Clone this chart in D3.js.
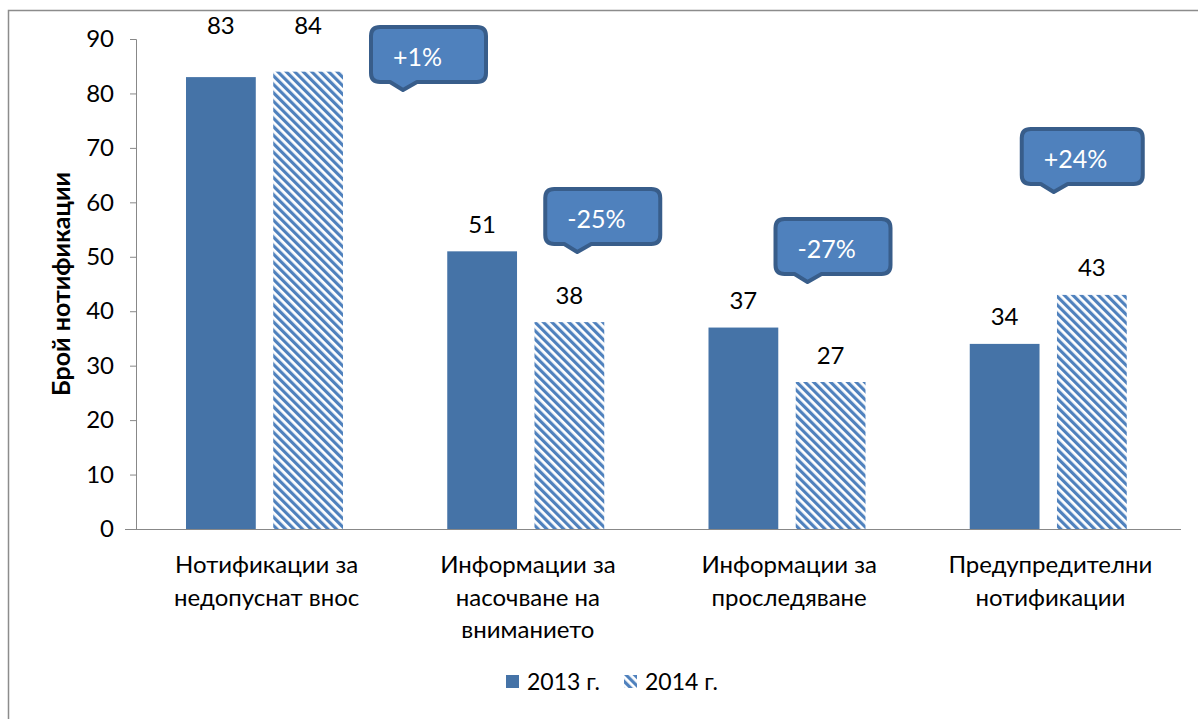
<!DOCTYPE html>
<html>
<head>
<meta charset="utf-8">
<script src="https://cdn.jsdelivr.net/npm/d3@7"></script>
<style>
  body { margin: 0; background: #fff; }
  svg { font-family: Lato, "Noto Sans", sans-serif; }
</style>
</head>
<body>
<div id="chart"></div>
<script>
// data
var categories = [
  ["Нотификации за", "недопуснат внос"],
  ["Информации за", "насочване на", "вниманието"],
  ["Информации за", "проследяване"],
  ["Предупредителни", "нотификации"]
];
var series = ["2013 г.", "2014 г."];
var values2013 = [83, 51, 37, 34];
var values2014 = [84, 38, 27, 43];
var changes = ["+1%", "-25%", "-27%", "+24%"];
var yTicks = [0, 10, 20, 30, 40, 50, 60, 70, 80, 90];

// layout for the callout boxes (offset from category band start, top y)
var calloutPos = [
  { dx: 233, top: 25, w: 119 },
  { dx: 146, top: 187, w: 119 },
  { dx: 115, top: 217, w: 119 },
  { dx: 100, top: 127, w: 125 }
];

var W = 1198, H = 719;
var svg = d3.select("#chart").append("svg").attr("width", W).attr("height", H);

// outer frame
svg.append("rect")
  .attr("x", 8.5).attr("y", 10.5)
  .attr("width", W + 10).attr("height", H + 10)
  .attr("fill", "none").attr("stroke", "#8c8c8c").attr("stroke-width", 1.5);

// hatch pattern
var defs = svg.append("defs");
var pat = defs.append("pattern")
  .attr("id", "hatch")
  .attr("patternUnits", "userSpaceOnUse")
  .attr("width", 6).attr("height", 6)
  .attr("patternTransform", "rotate(-45)");
pat.append("rect").attr("width", 6).attr("height", 6).attr("fill", "#fff");
pat.append("rect").attr("width", 3.2).attr("height", 6).attr("fill", "#4f81bd");

var x0 = d3.scaleBand().domain(d3.range(categories.length)).range([136, 1181]);
var x1 = d3.scaleBand().domain(series).range([50, 207]).paddingInner(0.2);
var y = d3.scaleLinear().domain([0, 90]).range([529, 39]);

var fills = ["#4573a7", "url(#hatch)"];

// y axis
var yAxis = svg.append("g")
  .attr("transform", "translate(136,0)")
  .call(d3.axisLeft(y).tickValues(yTicks).tickSize(6).tickPadding(16));
yAxis.select(".domain").attr("stroke", "#888").attr("d", "M-6,39.5H0.5V529.5");
yAxis.selectAll(".tick line").attr("stroke", "#888");
yAxis.selectAll("text").attr("font-size", 24).attr("fill", "#000")
  .attr("font-family", "Lato, 'Noto Sans', sans-serif");

// x axis line
svg.append("line")
  .attr("x1", 125).attr("x2", 1181)
  .attr("y1", y(0) + 0.5).attr("y2", y(0) + 0.5)
  .attr("stroke", "#888");

// y title
svg.append("text")
  .attr("transform", "translate(70," + ((39 + 529) / 2) + ") rotate(-90)")
  .attr("text-anchor", "middle")
  .attr("font-size", 25).attr("font-weight", "bold")
  .text("Брой нотификации");

// bars
var rows = categories.map(function (c, i) {
  return [
    { cat: i, s: series[0], v: values2013[i], k: 0 },
    { cat: i, s: series[1], v: values2014[i], k: 1 }
  ];
});

var groups = svg.selectAll(".grp").data(rows).enter().append("g")
  .attr("class", "grp")
  .attr("transform", function (d, i) { return "translate(" + x0(i) + ",0)"; });

groups.selectAll("rect").data(function (d) { return d; }).enter().append("rect")
  .attr("x", function (d) { return x1(d.s); })
  .attr("width", x1.bandwidth())
  .attr("y", function (d) { return y(d.v); })
  .attr("height", function (d) { return y(0) - y(d.v); })
  .attr("fill", function (d) { return fills[d.k]; });

// value labels (the tall first pair sit at the top of the plot)
groups.selectAll(".val").data(function (d) { return d; }).enter().append("text")
  .attr("class", "val")
  .attr("x", function (d) { return x1(d.s) + x1.bandwidth() / 2; })
  .attr("y", function (d) { return d.v > 80 ? y(90) - 5 : y(d.v) - 18.5; })
  .attr("text-anchor", "middle")
  .attr("font-size", 24)
  .text(function (d) { return d.v; });

// category labels
groups.append("text")
  .attr("text-anchor", "middle")
  .attr("font-size", 24)
  .selectAll("tspan").data(function (d, i) { return categories[i]; }).enter().append("tspan")
  .attr("x", x0.bandwidth() / 2)
  .attr("y", function (d, j) { return 573 + j * 32.5; })
  .text(function (d) { return d; });

// callouts
calloutPos.forEach(function (p, i) {
  var l = x0(i) + p.dx + 2, t = p.top + 2, w = p.w - 4, h = 55, r = 9;
  var b = t + h;
  var path = "M" + (l + r) + "," + t +
    " H" + (l + w - r) + " Q" + (l + w) + "," + t + " " + (l + w) + "," + (t + r) +
    " V" + (b - r) + " Q" + (l + w) + "," + b + " " + (l + w - r) + "," + b +
    " H" + (l + 46) + " L" + (l + 32) + "," + (b + 8) + " L" + (l + 19) + "," + b +
    " H" + (l + r) + " Q" + l + "," + b + " " + l + "," + (b - r) +
    " V" + (t + r) + " Q" + l + "," + t + " " + (l + r) + "," + t + " Z";
  svg.append("path")
    .attr("d", path)
    .attr("fill", "#4f81bd")
    .attr("stroke", "#385d8a")
    .attr("stroke-width", 4)
    .attr("stroke-linejoin", "round");
  svg.append("text")
    .attr("x", x0(i) + p.dx + 24)
    .attr("y", p.top + 41)
    .attr("font-size", 25)
    .attr("fill", "#fff")
    .text(changes[i]);
});

// legend
var legend = svg.append("g").attr("transform", "translate(506,675)");
series.forEach(function (s, i) {
  var g = legend.append("g").attr("transform", "translate(" + (i * 118) + ",0)");
  g.append("rect").attr("width", 13).attr("height", 13).attr("fill", fills[i]);
  g.append("text").attr("x", 21).attr("y", 15).attr("font-size", 23).text(s);
});
</script>
</body>
</html>
